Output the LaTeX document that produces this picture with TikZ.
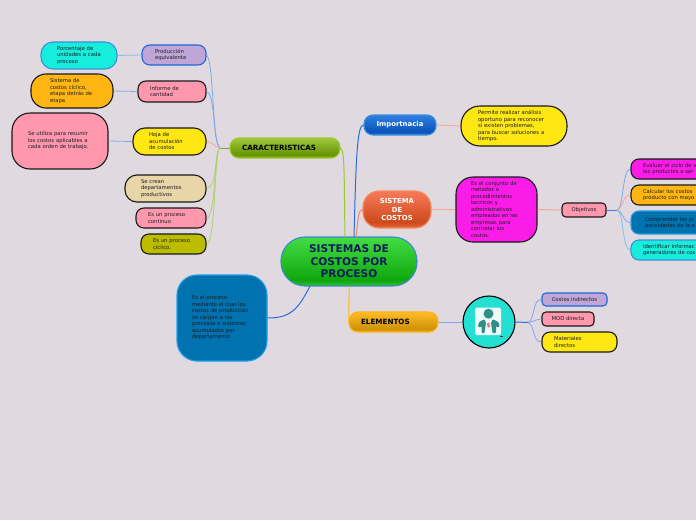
\documentclass[tikz,border=0pt]{standalone}
\usepackage{fontspec}
\setmainfont{DejaVu Sans}
\usetikzlibrary{calc}
\definecolor{bgc}{HTML}{E0DAE0}
\definecolor{kpink}{HTML}{FF97AD}
\definecolor{kyellow}{HTML}{FFE713}
\definecolor{korange}{HTML}{FFB612}
\definecolor{kcyan}{HTML}{17EDDD}
\definecolor{kpurple}{HTML}{BFA6D6}
\definecolor{ksand}{HTML}{E8D5A8}
\definecolor{kolive}{HTML}{BDBD00}
\definecolor{kmag}{HTML}{FB1CE8}
\definecolor{kblue}{HTML}{0072B0}
\definecolor{ktext}{HTML}{1C1C24}
\definecolor{lblue}{HTML}{7FA8E8}
\definecolor{lpink}{HTML}{F5A898}
\definecolor{lgreen}{HTML}{B0D070}
\definecolor{lsky}{HTML}{7FC0EC}
\definecolor{rimblue}{HTML}{1F66DC}
\definecolor{rimcyan}{HTML}{3A90D8}
\definecolor{rimsky}{HTML}{1E9FE8}
\definecolor{rootrim}{HTML}{3E88D0}
\definecolor{roottext}{HTML}{0A1E5A}
\definecolor{carline}{HTML}{9CC82C}
\definecolor{impline}{HTML}{2A6CE0}
\definecolor{sisline}{HTML}{F58A60}
\definecolor{juncar}{HTML}{7F9A50}
\definecolor{icoc}{HTML}{23E0D2}
\definecolor{teal2}{HTML}{2E8F86}
\definecolor{dolc}{HTML}{E84A70}
\definecolor{ra}{HTML}{30C030}\definecolor{rb}{HTML}{0EA80E}\definecolor{rc}{HTML}{44DC44}
\definecolor{ca}{HTML}{8CB828}\definecolor{cb}{HTML}{669400}\definecolor{cc}{HTML}{A0C840}
\definecolor{ia}{HTML}{2C78E0}\definecolor{ib}{HTML}{0A52B8}\definecolor{ic}{HTML}{2F80E4}
\definecolor{sa}{HTML}{E8643A}\definecolor{sb}{HTML}{CC4A1C}\definecolor{sc}{HTML}{F87A5A}
\definecolor{ea}{HTML}{EBA818}\definecolor{eb}{HTML}{CF9208}\definecolor{ec}{HTML}{FFBC28}
\pgfdeclareverticalshading{groot}{100bp}{color(0bp)=(ra);color(25bp)=(ra);color(31bp)=(rb);color(75bp)=(rc);color(100bp)=(rc)}
\pgfdeclareverticalshading{gcar}{100bp}{color(0bp)=(ca);color(25bp)=(ca);color(33bp)=(cb);color(75bp)=(cc);color(100bp)=(cc)}
\pgfdeclareverticalshading{gimp}{100bp}{color(0bp)=(ia);color(25bp)=(ia);color(33bp)=(ib);color(75bp)=(ic);color(100bp)=(ic)}
\pgfdeclareverticalshading{gsis}{100bp}{color(0bp)=(sa);color(25bp)=(sa);color(33bp)=(sb);color(75bp)=(sc);color(100bp)=(sc)}
\pgfdeclareverticalshading{gele}{100bp}{color(0bp)=(ea);color(25bp)=(ea);color(33bp)=(eb);color(75bp)=(ec);color(100bp)=(ec)}
\tikzset{
  x=1pt,y=-1pt,
  mapbox/.style={rectangle,draw,line width=1.1pt,inner sep=0pt,text=ktext,font=\fontsize{5.3}{6.5}\selectfont},
  blk/.style={mapbox,draw=black!90},
  conn/.style={line width=.8pt,lblue},
  branch/.style={line width=1pt},
  boldtxt/.style={font=\fontsize{7.2}{8}\selectfont\bfseries},
}
% name, x1,y1,x2,y2, radius, text x, options, text
\newcommand\mapnode[9]{%
  \pgfmathsetmacro\nw{#4-#2}\pgfmathsetmacro\nh{#5-#3}%
  \pgfmathsetmacro\nt{\nw-2*(#7-#2)}%
  \node[#8,minimum width=\nw pt,minimum height=\nh pt,rounded corners=#6pt,text width=\nt pt,align=left]
    (#1) at ({(#2+#4)/2},{(#3+#5)/2}) {#9};%
}
\newcommand\mapctr[8]{%
  \pgfmathsetmacro\nw{#4-#2}\pgfmathsetmacro\nh{#5-#3}%
  \node[#7,minimum width=\nw pt,minimum height=\nh pt,rounded corners=#6pt,align=center]
    (#1) at ({(#2+#4)/2},{(#3+#5)/2}) {#8};%
}
\begin{document}
\begin{tikzpicture}
\useasboundingbox (0,0) rectangle (696,520);
\fill[bgc] (0,0) rectangle (696,520);
\clip (0,0) rectangle (696,520);
% nodes
\mapctr{root}{281}{237}{417}{286}{24}{mapbox,draw=rootrim,shading=groot,text=roottext,font=\fontsize{10.6}{12.4}\selectfont\bfseries}{SISTEMAS DE\\COSTOS POR\\PROCESO}
\mapnode{car}{230}{138}{340}{158}{9}{242}{mapbox,draw=carline,shading=gcar,text=black,boldtxt}{CARACTERISTICAS}
\mapctr{imp}{364}{115}{436}{135}{9}{mapbox,draw=rimcyan,shading=gimp,text=white,font=\fontsize{6.9}{8}\selectfont\bfseries}{Importnacia}
\mapctr{sis}{363}{191}{431}{228}{16}{mapbox,draw=sisline,shading=gsis,text=white,font=\fontsize{6.9}{8.2}\selectfont\bfseries}{SISTEMA\\DE\\COSTOS}
\mapnode{ele}{349}{312}{438}{332}{9}{361}{mapbox,draw=korange,shading=gele,text=black,boldtxt}{ELEMENTOS}
\mapnode{pct}{41}{42}{117}{69}{12}{57}{mapbox,draw=rimcyan,fill=kcyan}{Porcentaje de\\unidades a cada\\proceso}
\mapnode{prod}{142}{45}{206}{65}{8}{155}{mapbox,draw=rimblue,fill=kpurple}{Producción\\equivalente}
\mapnode{sist}{31}{74}{113}{108}{15}{50}{blk,fill=korange}{Sistema de\\costos cíclico,\\etapa detrás de\\etapa}
\mapnode{inf}{138}{81}{206}{102}{8}{150}{blk,fill=kpink}{Informe de\\cantidad}
\mapnode{util}{12}{113}{108}{169}{18}{28}{blk,fill=kpink}{Se utiliza para resumir\\los costos aplicables a\\cada orden de trabajo.}
\mapnode{hoja}{133}{128}{206}{155}{12}{149}{blk,fill=kyellow}{Hoja de\\acumulación\\de costos}
\mapnode{crean}{125}{175}{206}{202}{12}{141}{blk,fill=ksand}{Se crean\\departamentos\\productivos}
\mapnode{cont}{136}{208}{206}{228}{8}{148}{blk,fill=kpink}{Es un proceso\\continuo}
\mapnode{cic}{141}{234}{206}{254}{8}{153}{blk,fill=kolive}{Es un proceso\\cíclico.}
\mapnode{def}{177}{275}{267}{361}{20}{192}{mapbox,draw=rimsky,fill=kblue}{Es el proceso\\mediante el cual los\\costos de producción\\se cargan a los\\procesos o sistemas\\acumulados por\\departamento.}
\mapnode{perm}{461}{106}{567}{146}{19}{478}{blk,fill=kyellow}{Permite realizar análisis\\oportuno para reconocer\\si existen problemas,\\para buscar soluciones a\\tiempo.}
\mapnode{conj}{456}{177}{537}{242}{17}{471}{blk,fill=kmag}{Es el conjunto de\\metodos o\\procedimientos\\tecnicos y\\administrativos\\empleados en las\\empresas para\\controlar los\\costos.}
\mapctr{obj}{562}{203}{606}{217}{4}{blk,fill=kpink}{Objetivos}
\mapnode{eva}{631}{159}{760}{179}{8}{643}{blk,fill=kmag}{Evaluar el ciclo de v\\los productos o ser}
\mapnode{cal}{631}{185}{760}{205}{8}{643}{blk,fill=korange}{Calcular los costos\\producto con mayo}
\mapnode{com}{631}{211}{760}{234}{8}{645}{mapbox,draw=rimsky,fill=kblue}{Comprender los pr\\actividades de la e}
\mapnode{ide}{631}{240}{760}{260}{8}{643}{mapbox,draw=rimcyan,fill=kcyan}{Identificar informac\\generadores de cos}
\mapctr{ind}{542}{293}{607}{306}{4}{mapbox,draw=rimblue,fill=kpurple}{Costos indirectos}
\mapctr{mod}{542}{312}{594}{326}{4}{blk,fill=kpink}{MOD directa}
\mapnode{mat}{542}{332}{617}{352}{8}{554}{blk,fill=kyellow}{Materiales\\directos}
\node[circle,draw=black,line width=1.1pt,fill=icoc,minimum size=52pt,inner sep=0pt] (ico) at (489,322) {};
% icon
\fill[white!92!icoc,rounded corners=1.5pt] (475,307.5) rectangle (501,335);
\fill[teal2] (488.5,313.7) circle (5);
\fill[teal2,rounded corners=.8pt] (478,326.5) .. controls (478.5,322) and (481,320) .. (484.5,319.5) -- (486,323) -- (484.5,333) -- (481.5,333) -- (481.5,326) -- (480.5,327.5) -- cycle;
\fill[teal2,rounded corners=.8pt] (499.5,326.5) .. controls (499,322) and (496.5,320) .. (492.5,319.5) -- (491,323) -- (492.5,333) -- (496,333) -- (496,326) -- (497,327.5) -- cycle;
\node[inner sep=0pt,text=dolc,font=\fontsize{6}{6}\selectfont\bfseries] (dol) at (488.6,326) {\$};
\fill[black!80] (500,335.6) rectangle (503,336.4);
% junction coordinates
\coordinate (jc) at (220,148);
\coordinate (jo) at (617,210);
\coordinate (je) at (528,322.5);
% connectors
\draw[branch,carline] (car.east) .. controls (345,150) and (344,180) .. (345,237);
\draw[branch,impline] (imp.west) .. controls (357,125) and (356,160) .. (354,237);
\draw[branch,sisline] (sis.west) .. controls (358,210) and (358,220) .. (356,237);
\draw[branch,korange] (ele.west) .. controls (349,322) and (349,310) .. (349,286);
\draw[branch,impline] (def.east) .. controls (290,318) and (298,310) .. (310,286);
\draw[conn,juncar] (car.west) -- (jc);
\draw[conn] (jc) .. controls (212,145) and (214,60) .. (prod.east);
\draw[conn] (jc) .. controls (212,140) and (216,95) .. (inf.east);
\draw[conn,lpink] (jc) .. controls (214,147) and (212,141) .. (hoja.east);
\draw[conn,lgreen] (jc) .. controls (214,150) and (218,188) .. (crean.east);
\draw[conn,lgreen] (jc) .. controls (214,150) and (216,218) .. (cont.east);
\draw[conn,lgreen] (jc) .. controls (214,150) and (216,244) .. (cic.east);
\draw[conn,lsky] (prod.west) -- (pct.east);
\draw[conn] (inf.west) -- (sist.east);
\draw[conn] (hoja.west) -- (util.east);
\draw[conn,lpink] (imp.east) -- (perm.west);
\draw[conn,lpink,line width=1pt] (sis.east) -- (conj.west);
\draw[conn,lpink,line width=1pt] (conj.east) -- (obj.west);
\draw[conn,line width=1pt,impline!70!lblue] (obj.east) -- (jo);
\draw[conn] (jo) .. controls (624,208) and (622,169) .. (eva.west);
\draw[conn,lpink] (jo) .. controls (624,208) and (622,195) .. (cal.west);
\draw[conn] (jo) .. controls (624,212) and (622,222) .. (com.west);
\draw[conn,lsky] (jo) .. controls (624,212) and (622,250) .. (ide.west);
\draw[conn] (ele.east) -- (ico.west);
\draw[conn,line width=1pt,impline] (ico.east) -- (je);
\draw[conn] (je) .. controls (535,320) and (532,299.5) .. (ind.west);
\draw[conn] (je) .. controls (533,322) and (537,319) .. (mod.west);
\draw[conn] (je) .. controls (535,325) and (532,342) .. (mat.west);
\end{tikzpicture}
\end{document}
